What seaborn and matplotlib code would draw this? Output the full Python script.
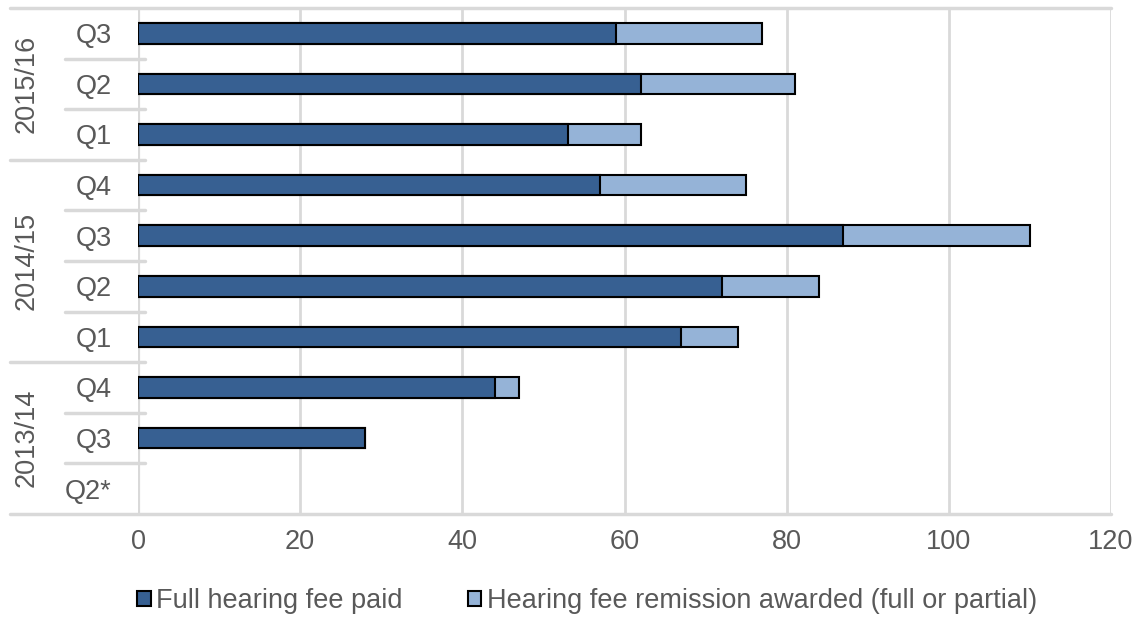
import pandas as pd
import numpy as np
import matplotlib
matplotlib.use("Agg")
import matplotlib.pyplot as plt
import seaborn as sns
from matplotlib.patches import Patch

sns.set_style("white")
plt.rcParams['font.family'] = ['Liberation Sans', 'DejaVu Sans']

# datos (de arriba hacia abajo)
grupos = ['2015/16', '2015/16', '2015/16', '2014/15', '2014/15', '2014/15', '2014/15', '2013/14', '2013/14', '2013/14']
trimestres = ['Q3', 'Q2', 'Q1', 'Q4', 'Q3', 'Q2', 'Q1', 'Q4', 'Q3', 'Q2*']
pagado = [59, 62, 53, 57, 87, 72, 67, 44, 28, 0]
remision = [18, 19, 9, 18, 23, 12, 7, 3, 0, 0]

df = pd.DataFrame({'cat': [g + ' ' + q for g, q in zip(grupos, trimestres)],
                   'pagado': pagado, 'remision': remision})
df['total'] = df['pagado'] + df['remision']

oscuro = '#376092'
claro = '#95b3d7'
gris = '#595959'
linea = '#d9d9d9'
fs = 19.5

fig = plt.figure(figsize=(11.42, 6.22), dpi=100)
ax = fig.add_axes([138/1142, 1-514/622, 973/1142, 506/622])

sns.barplot(data=df, y='cat', x='total', color=claro, orient='h', width=0.41,
            edgecolor='black', linewidth=1.5, saturation=1, ax=ax, zorder=3)
sns.barplot(data=df, y='cat', x='pagado', color=oscuro, orient='h', width=0.41,
            edgecolor='black', linewidth=1.5, saturation=1, ax=ax, zorder=4)
# barras vacias (Q2*) sin borde
for p in ax.patches:
    if p.get_width() == 0:
        p.set_visible(False)

ax.set_xlim(0, 120)
ax.set_ylim(9.5, -0.5)
ax.set_xticks(np.arange(0, 121, 20))
ax.xaxis.grid(True, color=linea, linewidth=2, zorder=0)
ax.set_axisbelow(True)
ax.set_xlabel('')
ax.set_ylabel('')
ax.set_yticks(range(len(trimestres)))
ax.set_yticklabels(trimestres)
ax.tick_params(axis='y', length=0, pad=19, labelsize=fs, labelcolor=gris)
ax.tick_params(axis='x', length=0, pad=11, labelsize=fs, labelcolor=gris)

for s in ['top', 'bottom', 'right', 'left']:
    ax.spines[s].set_visible(False)
ax.axvline(0, color=linea, linewidth=3, zorder=1)

# lineas de la tabla de categorias
tr = ax.get_yaxis_transform()
x_izq = (10 - 138) / 973
x_cor = (65 - 138) / 973
x_der = (145 - 138) / 973
for y in [-0.5, 9.5]:
    ax.plot([x_izq, 1], [y, y], transform=tr, color=linea, linewidth=2.5, clip_on=False, zorder=1)
for i in range(len(grupos) - 1):
    y = i + 0.5
    if grupos[i] != grupos[i + 1]:
        ax.plot([x_izq, x_der], [y, y], transform=tr, color=linea, linewidth=2.5, clip_on=False)
    else:
        ax.plot([x_cor, x_der], [y, y], transform=tr, color=linea, linewidth=2.5, clip_on=False)

# etiquetas de grupo
for g in pd.unique(pd.Series(grupos)):
    idx = [i for i, v in enumerate(grupos) if v == g]
    ax.text((27 - 138) / 973, np.mean(idx), g, transform=tr, rotation=90,
            ha='center', va='center', fontsize=fs, color=gris)

handles = [Patch(facecolor=oscuro, edgecolor='black', linewidth=1.5, label='Full hearing fee paid'),
           Patch(facecolor=claro, edgecolor='black', linewidth=1.5, label='Hearing fee remission awarded (full or partial)')]
fig.legend(handles=handles, loc='center', bbox_to_anchor=(587/1142, 1-601/622), ncol=2,
           frameon=False, fontsize=fs, labelcolor=gris, handlelength=0.5, handleheight=0.5,
           handletextpad=0.2, columnspacing=2.4)

fig.savefig('out.png', dpi=100)
